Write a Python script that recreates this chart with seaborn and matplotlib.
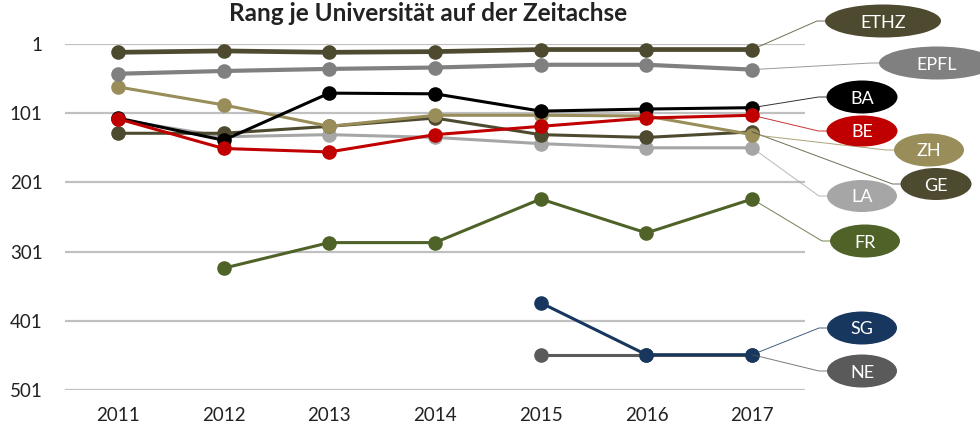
import numpy as np
import pandas as pd
import matplotlib
matplotlib.use("Agg")
import matplotlib.pyplot as plt
from matplotlib.patches import Ellipse
from matplotlib.lines import Line2D
import seaborn as sns

title = "Rang je Universität auf der Zeitachse"
years = [2011, 2012, 2013, 2014, 2015, 2016, 2017]
nan = np.nan
LA = [110, 135, 132, 136, 145, 151, 151]
GE = [130, 130, 120, 108, 132, 136, 128]
ZH = [63, 89, 120, 104, 104, 105, 132]
BA = [108, 140, 72, 73, 98, 95, 93]
BE = [109, 152, 157, 132, 120, 108, 104]
EPFL = [44, 40, 37, 35, 31, 31, 38]
ETHZ = [13, 11, 13, 12, 9, 9, 9]
FR = [nan, 325, 288, 288, 225, 274, 225]
NE = [nan, nan, nan, nan, 450, 450, 450]
SG = [nan, nan, nan, nan, 375, 450, 450]
yticks = [1, 101, 201, 301, 401, 501]
ytick_labels = ["1", "101", "201", "301", "401", "501"]

series = [
    ("LA", LA, "#a6a6a6", 2.2),
    ("GE", GE, "#4e4a2f", 2.2),
    ("ZH", ZH, "#998d5a", 2.2),
    ("BA", BA, "#000000", 2.2),
    ("BE", BE, "#c00000", 2.2),
    ("EPFL", EPFL, "#808080", 3.0),
    ("ETHZ", ETHZ, "#4e4a2f", 3.4),
    ("FR", FR, "#4f6228", 2.2),
    ("NE", NE, "#5a5a5a", 2.2),
    ("SG", SG, "#17375e", 2.2),
]

# label ellipse: center x, center y (pixels from top), width, height
labels = {
    "ETHZ": (883, 21, 116, 33),
    "EPFL": (937, 63, 116, 33),
    "BA": (862, 97, 71, 33),
    "BE": (862, 131, 71, 31),
    "ZH": (929, 150, 70, 33),
    "GE": (936, 184, 71, 32),
    "LA": (862, 196, 70, 32),
    "FR": (865, 241, 70, 33),
    "SG": (862, 328, 70, 33),
    "NE": (862, 371, 70, 33),
}

sns.set_theme(style="white")
plt.rcParams["font.family"] = ["Lato", "DejaVu Sans"]

W, H = 980, 430
fig = plt.figure(figsize=(W / 100, H / 100), dpi=100)
ax = fig.add_axes([65 / W, (H - 390) / H, (805 - 65) / W, (390 - 44) / H])

for name, vals, col, lw in series:
    df = pd.DataFrame({"year": years, "rank": vals}).dropna()
    sns.lineplot(data=df, x="year", y="rank", ax=ax, color=col, lw=lw,
                 marker="o", markersize=10.5, markeredgewidth=0, clip_on=False)

ax.set_xlim(2010.5, 2017.5)
ax.set_ylim(501, 1)
ax.set_yticks(yticks)
ax.set_yticklabels(ytick_labels)
ax.set_xticks(years)
ax.set_xticklabels([str(y) for y in years])
ax.set_xlabel("")
ax.set_ylabel("")
ax.grid(axis="y", color="#c0c0c0", lw=1.6)
ax.grid(axis="x", visible=False)
ax.set_axisbelow(True)
for s in ax.spines.values():
    s.set_visible(False)
ax.tick_params(axis="y", length=0, pad=16, labelsize=13.5, colors="#222222")
ax.tick_params(axis="x", length=0, pad=12, labelsize=13.5, colors="#222222")

fig.text(428 / W, 1 - 21 / H, title, ha="center", va="baseline",
         fontsize=17.5, fontweight="bold", color="#222222")

fig.canvas.draw()
inv = fig.transFigure.inverted()
for name, vals, col, lw in series:
    cx, cy, ew, eh = labels[name]
    last = vals[-1]
    px, py = ax.transData.transform((2017, last))
    x0, y0 = inv.transform((px, py))
    lx = (cx - ew / 2) / W
    ly = 1 - cy / H
    ex = lx - 8 / W
    fig.add_artist(Line2D([x0, ex, lx], [y0, ly, ly], transform=fig.transFigure,
                          color=col, lw=0.7, alpha=0.8, zorder=1))
    e = Ellipse((cx / W, 1 - cy / H), ew / W, eh / H, transform=fig.transFigure,
                facecolor=col, edgecolor="none", zorder=3)
    fig.add_artist(e)
    fig.text(cx / W, 1 - cy / H, name, ha="center", va="center_baseline",
             color="white", fontsize=13, zorder=4)

fig.savefig("out.png", dpi=100)
